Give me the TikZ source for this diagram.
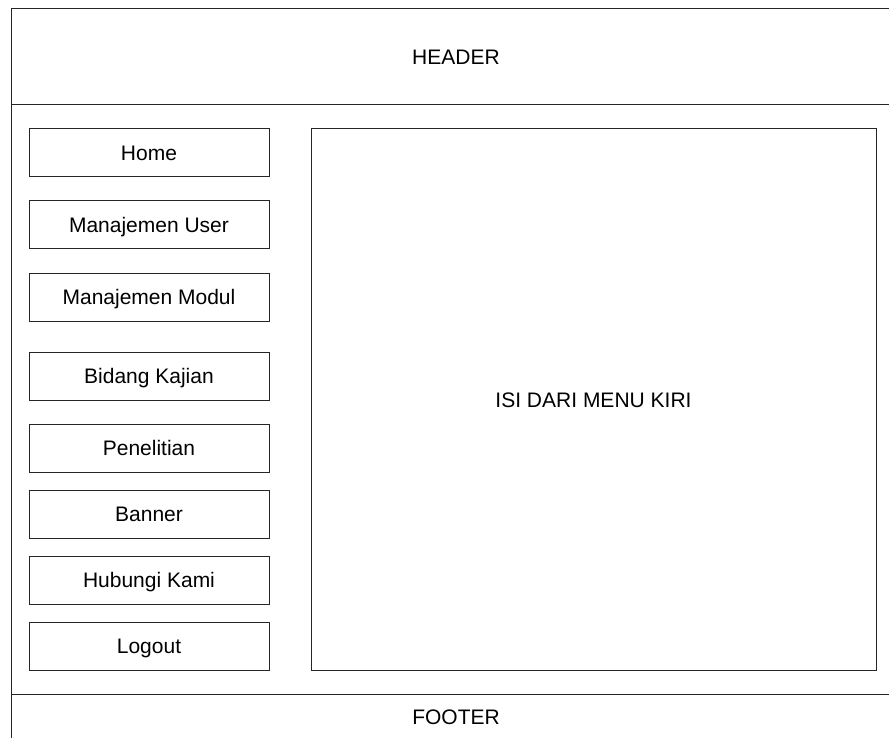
\documentclass[tikz,border=0pt]{standalone}
\usepackage{fontspec}
\setmainfont{Liberation Sans}
\begin{document}
\begin{tikzpicture}[x=1pt,y=-1pt,
  every node/.style={font=\fontsize{21}{25}\selectfont, inner sep=0pt, outer sep=0pt, text height=15pt, text depth=0pt},
  frame/.style={draw=black!85, line width=1pt, minimum width=890pt},
  menubox/.style={draw=black!85, line width=1pt, minimum width=240pt, minimum height=48pt},
  contentbox/.style={draw=black!85, line width=1pt, minimum width=565pt, minimum height=541pt}]
\useasboundingbox (0,0) rectangle (889,738);
\clip (0,0) rectangle (889,738);
\node[frame, minimum height=96pt] (header) at (456,57) {HEADER};
\node[frame, minimum height=589pt] (body) at (456,399.5) {};
\node[frame, minimum height=46pt] (footer) at (456,717) {FOOTER};
\node[contentbox] (content) at (593.5,399.5) {ISI DARI MENU KIRI};
\node[menubox] (home) at (149,153) {Home};
\node[menubox] (user) at (149,225) {Manajemen User};
\node[menubox] (modul) at (149,297) {Manajemen Modul};
\node[menubox] (bidang) at (149,376) {Bidang Kajian};
\node[menubox] (penelitian) at (149,448) {Penelitian};
\node[menubox] (banner) at (149,514) {Banner};
\node[menubox] (hubungi) at (149,580) {Hubungi Kami};
\node[menubox] (logout) at (149,646) {Logout};
\end{tikzpicture}
\end{document}
